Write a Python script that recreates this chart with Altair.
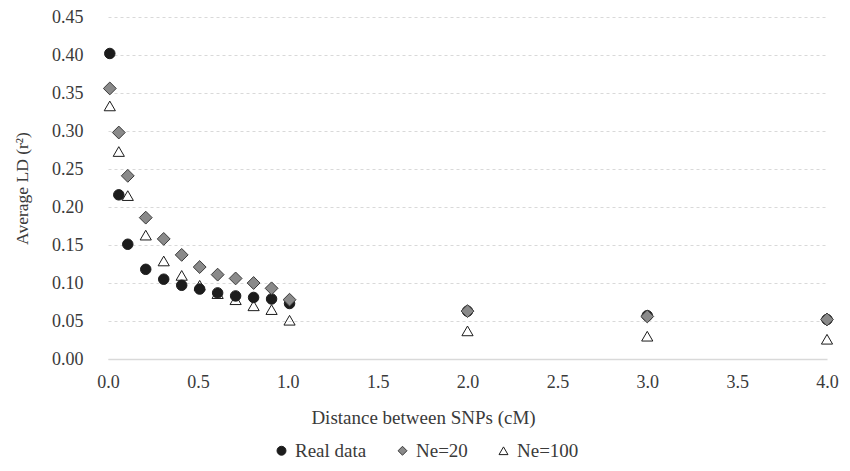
import altair as alt
import pandas as pd

x_vals = [0.01, 0.06, 0.11, 0.21, 0.31, 0.41, 0.51, 0.61, 0.71, 0.81, 0.91, 1.01, 2.0, 3.0, 4.0]
real_data = [0.402, 0.216, 0.151, 0.118, 0.105, 0.097, 0.092, 0.087, 0.083, 0.081, 0.079, 0.073, 0.063, 0.057, 0.052]
ne20 = [0.356, 0.298, 0.241, 0.186, 0.158, 0.137, 0.121, 0.111, 0.106, 0.100, 0.093, 0.078, 0.063, 0.056, 0.052]
ne100 = [0.333, 0.273, 0.215, 0.163, 0.129, 0.110, 0.097, 0.086, 0.078, 0.070, 0.065, 0.051, 0.037, 0.030, 0.026]

series_names = ["Real data", "Ne=20", "Ne=100"]
marker_sizes = {"Real data": 110, "Ne=20": 165, "Ne=100": 125}
rows = []
for name, vals in zip(series_names, [real_data, ne20, ne100]):
    for xv, yv in zip(x_vals, vals):
        rows.append({"dist": xv, "ld": yv, "series": name})
df = pd.DataFrame(rows)

FONT = "Liberation Serif"
TXT = "#3a3a3a"

legend = alt.Legend(
    title=None, orient="none", direction="horizontal", columns=3,
    legendX=164, legendY=424, labelFont=FONT, labelFontSize=19, labelColor=TXT,
    symbolSize=80, columnPadding=26, symbolStrokeWidth=1, labelOffset=4,
)

base = alt.Chart(df).encode(
    x=alt.X("dist:Q", scale=alt.Scale(domain=[0, 4], nice=False),
            axis=alt.Axis(values=[0, 0.5, 1, 1.5, 2, 2.5, 3, 3.5, 4], format=".1f",
                          title="Distance between SNPs (cM)", grid=False, labelFlush=False,
                          domainColor="#d9d9d9", domainWidth=1.5, ticks=False,
                          labelPadding=14, titleX=315, titleY=58, titleBaseline="middle",
                          titleAlign="center", titleFontSize=19)),
    y=alt.Y("ld:Q", scale=alt.Scale(domain=[0, 0.45], nice=False),
            axis=alt.Axis(values=[0, 0.05, 0.1, 0.15, 0.2, 0.25, 0.3, 0.35, 0.4, 0.45], format=".2f",
                          title="Average LD (r²)", grid=True, gridDash=[3, 3], gridColor="#d9d9d9",
                          domain=False, ticks=False, labelPadding=25, labelFlush=False,
                          titleX=-86, titleY=171, titleAngle=-90, titleBaseline="middle",
                          titleAlign="center", titleFontSize=17.5)),
    shape=alt.Shape("series:N", scale=alt.Scale(domain=series_names, range=["circle", "diamond", "triangle-up"]), legend=legend),
    fill=alt.Fill("series:N", scale=alt.Scale(domain=series_names, range=["#1c1c1c", "#8a8a8a", "transparent"]), legend=legend),
    stroke=alt.Stroke("series:N", scale=alt.Scale(domain=series_names, range=["#1c1c1c", "#3a3a3a", "#1c1c1c"]), legend=legend),
)

layers = []
for name in ["Ne=100", "Real data", "Ne=20"]:
    layers.append(
        base.transform_filter(alt.datum.series == name).mark_point(
            filled=False, opacity=1, strokeWidth=1, size=marker_sizes[name])
    )

chart = alt.layer(*layers).properties(
    width=719, height=342, autosize="none",
    padding={"left": 100, "top": 9, "right": 15, "bottom": 104},
).configure_axis(
    labelFont=FONT, titleFont=FONT, labelFontSize=18,
    labelColor=TXT, titleColor=TXT, titleFontWeight="normal",
).configure_legend(
    labelFont=FONT, labelFontSize=19, labelColor=TXT,
).configure_view(stroke=None)

chart.save("out.html", embed_options={"renderer": "svg", "actions": False})
